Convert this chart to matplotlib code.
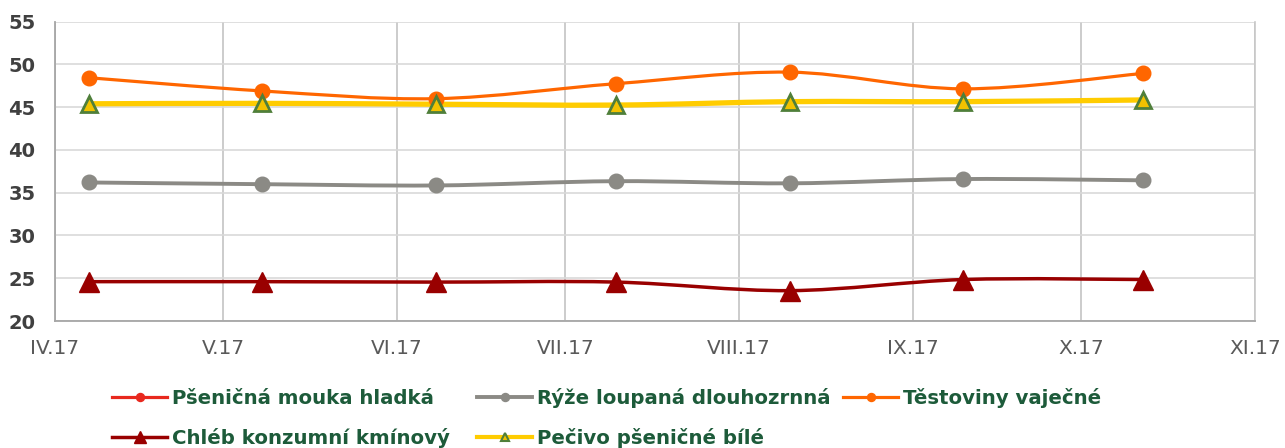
import matplotlib
matplotlib.use('Agg')
import matplotlib.pyplot as plt
import matplotlib.dates as mdates
import numpy as np
from matplotlib.path import Path
from matplotlib.patches import PathPatch
from matplotlib.lines import Line2D

# survey dates and prices (Kc/kg)
dates = ['2017-04-07', '2017-05-08', '2017-06-08', '2017-07-10',
         '2017-08-10', '2017-09-10', '2017-10-12']
flour = [12.5, 12.6, 12.4, 12.5, 12.5, 12.4, 12.6]     # below axis range
rice = [36.2, 36.0, 35.85, 36.35, 36.1, 36.6, 36.45]
pasta = [48.45, 46.9, 46.0, 47.75, 49.1, 47.15, 48.95]
bread = [24.6, 24.6, 24.55, 24.55, 23.55, 24.85, 24.85]
rolls = [45.4, 45.45, 45.35, 45.25, 45.65, 45.65, 45.85]

names = ['Pšeničná mouka hladká', 'Rýže loupaná dlouhozrnná', 'Těstoviny vaječné',
         'Chléb konzumní kmínový', 'Pečivo pšeničné bílé']

month_starts = ['2017-04-01', '2017-05-01', '2017-06-01', '2017-07-01',
                '2017-08-01', '2017-09-01', '2017-10-01', '2017-11-01']
month_labels = ['IV.17', 'V.17', 'VI.17', 'VII.17', 'VIII.17', 'IX.17', 'X.17', 'XI.17']

x = mdates.datestr2num(dates)
xt = mdates.datestr2num(month_starts)


def smooth_path(xs, ys):
    # excel-like smoothed line: catmull-rom as cubic bezier
    pts = np.column_stack([xs, ys])
    n = len(pts)
    verts = [pts[0]]
    codes = [Path.MOVETO]
    for i in range(n - 1):
        p0 = pts[max(i - 1, 0)]
        p1 = pts[i]
        p2 = pts[i + 1]
        p3 = pts[min(i + 2, n - 1)]
        verts += [p1 + (p2 - p0) / 6, p2 - (p3 - p1) / 6, p2]
        codes += [Path.CURVE4] * 3
    return Path(verts, codes)


fig = plt.figure(figsize=(12.85, 4.48), dpi=100)
ax = fig.add_axes([55 / 1285, 127 / 448, 1200 / 1285, 299.3 / 448])

styles = [
    dict(color='#E8281E', lw=2.3, marker='o', ms=10.5, mfc='#E8281E', mec='#E8281E', mew=1),
    dict(color='#8B8A85', lw=2.8, marker='o', ms=10.5, mfc='#8B8A85', mec='#8B8A85', mew=1),
    dict(color='#FF6600', lw=2.3, marker='o', ms=10.5, mfc='#FF6600', mec='#FF6600', mew=1),
    dict(color='#990000', lw=2.5, marker='^', ms=14.5, mfc='#990000', mec='#990000', mew=1),
    dict(color='#FFCC00', lw=3.8, marker='^', ms=11.5, mfc='#F2C200', mec='#4F7F3A', mew=2),
]
series = [flour, rice, pasta, bread, rolls]

for s, st in zip(series, styles):
    ax.add_patch(PathPatch(smooth_path(x, s), fill=False, edgecolor=st['color'],
                           lw=st['lw'], capstyle='round', zorder=3))
for s, st in zip(series, styles):
    ax.plot(x, s, linestyle='none', marker=st['marker'], ms=st['ms'],
            mfc=st['mfc'], mec=st['mec'], mew=st['mew'], zorder=4)

ax.set_xlim(xt[0], xt[-1])
ax.set_ylim(20, 55)
ax.set_yticks(np.arange(20, 56, 5))
ax.set_xticks(xt)
ax.set_xticklabels(month_labels)

ax.grid(axis='y', color='#D9D9D9', lw=1.2, zorder=0)
ax.grid(axis='x', color='#BFBFBF', lw=1.1, zorder=0)
ax.set_axisbelow(True)
ax.tick_params(length=0)
ax.tick_params(axis='y', pad=14, labelsize=14, labelcolor='#404040')
ax.tick_params(axis='x', pad=13, labelsize=14.5, labelcolor='#595959')
for lab in ax.get_yticklabels():
    lab.set_fontweight('bold')
for sp in ['left', 'bottom']:
    ax.spines[sp].set_color('#A6A6A6')
    ax.spines[sp].set_linewidth(1.3)
ax.spines['top'].set_visible(False)
ax.spines['right'].set_color('#C8C8C8')
ax.spines['right'].set_linewidth(1.2)

# legend laid out like excel: each entry placed on its own
legend_pos = [(112, 398), (477, 398), (843, 398), (112, 438), (477, 438)]
for name, st, (px, py) in zip(names, styles, legend_pos):
    h = Line2D([], [], color=st['color'], lw=min(st['lw'], 3.0), marker=st['marker'],
               ms=st['ms'] * 0.55, mfc=st['mfc'], mec=st['mec'], mew=min(st['mew'], 1.5))
    leg = fig.legend([h], [name], loc='center left',
                     bbox_to_anchor=(px / 1285, 1 - py / 448), frameon=False,
                     borderpad=0, borderaxespad=0, handlelength=2.8, handletextpad=0.25,
                     prop=dict(size=14.2, weight='bold'))
    for t in leg.get_texts():
        t.set_color('#1D5B3A')

fig.savefig('out.png', dpi=100)
